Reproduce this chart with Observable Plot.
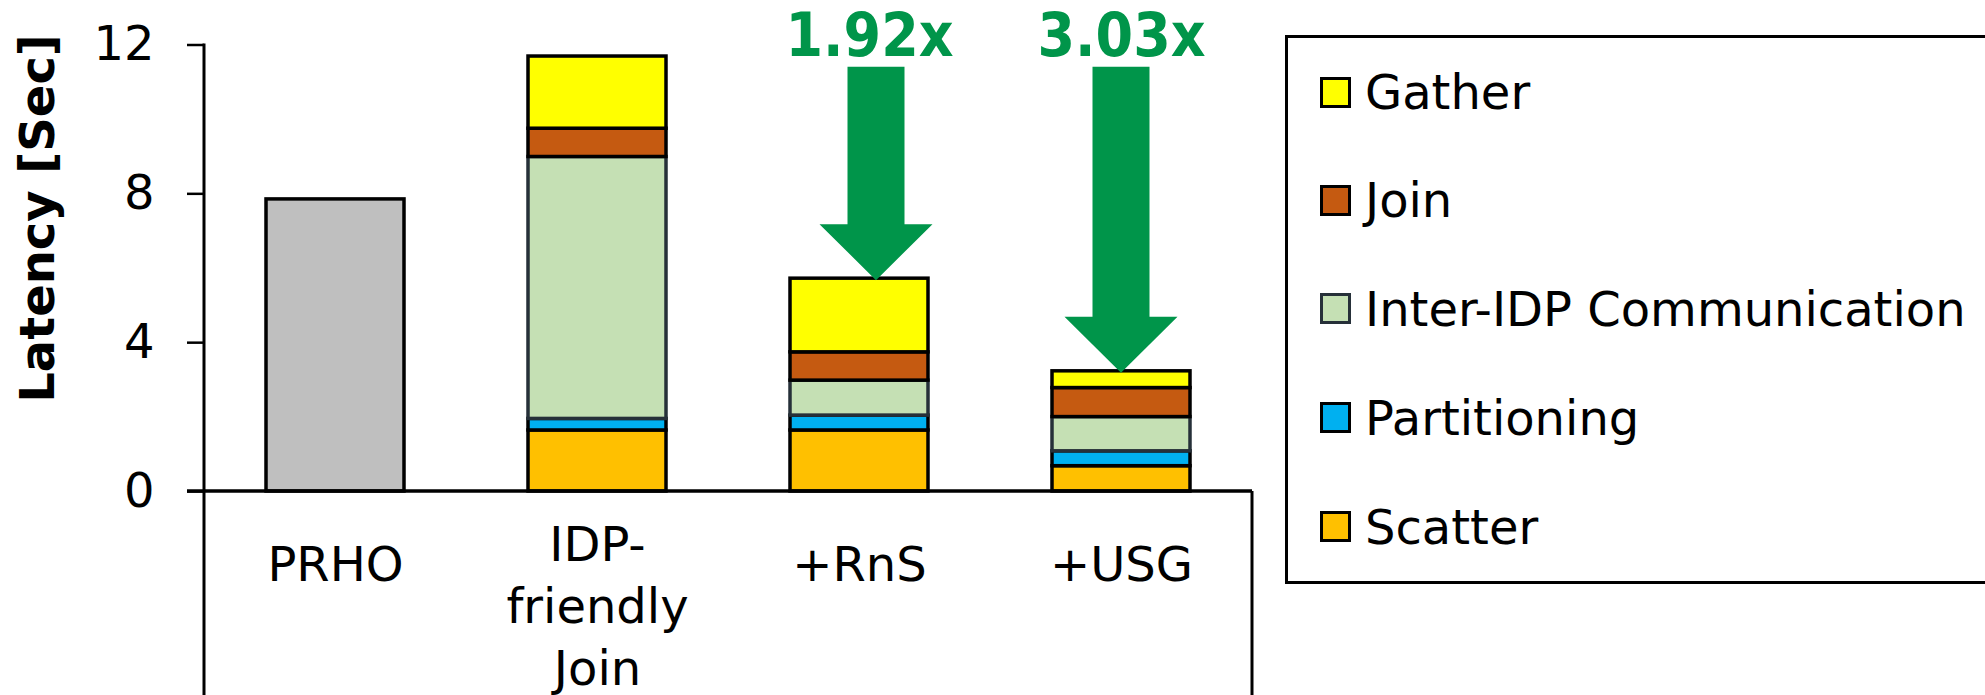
<!DOCTYPE html>
<html><head><meta charset="utf-8">
<script src="https://cdn.jsdelivr.net/npm/d3@7"></script>
<script src="https://cdn.jsdelivr.net/npm/@observablehq/plot@0.6"></script>
<style>
body{margin:0;background:#fff;}
#wrap{position:relative;width:1985px;height:695px;overflow:hidden;font-family:"DejaVu Sans",sans-serif;color:#000;}
#wrap svg{position:absolute;left:0;top:0;}
#legend{position:absolute;left:1285px;top:35px;width:760px;height:549px;border:3px solid #000;box-sizing:border-box;background:#fff;}
.item{position:absolute;left:32px;height:50px;display:flex;align-items:center;font-size:48px;white-space:nowrap;}
.sw{width:31px;height:31px;border:3px solid #000;box-sizing:border-box;margin-right:14px;flex:none;}
</style></head><body><div id="wrap"></div>
<script>
// ---- data ----
const categories = ["PRHO", "IDP-\nfriendly\nJoin", "+RnS", "+USG"];
const seriesNames = ["PRHO", "Scatter", "Partitioning", "Inter-IDP Communication", "Join", "Gather"];
const prhoTotal    = [7.85, 0, 0, 0];
const scatter      = [0, 1.64, 1.64, 0.68];
const partitioning = [0, 0.31, 0.40, 0.40];
const interIDP     = [0, 7.04, 0.94, 0.92];
const joinTime     = [0, 0.76, 0.76, 0.78];
const gather       = [0, 1.94, 1.98, 0.45];
const yTicks = [0, 4, 8, 12];
const speedupCats = ["+RnS", "+USG"];
const speedupLabels = ["1.92x", "3.03x"];
const arrowFrom = 11.4;
const legendOrder = ["Gather", "Join", "Inter-IDP Communication", "Partitioning", "Scatter"];

// ---- styles ----
const colors = {
  "PRHO": "#BFBFBF", "Scatter": "#FFC000", "Partitioning": "#00B0F0",
  "Inter-IDP Communication": "#C5E0B4", "Join": "#C55A11", "Gather": "#FFFF00"
};
const strokes = {"Inter-IDP Communication": "#263039"};
const green = "#00954A";
const arrowNudge = [17, 0];
const textNudge = [10, 0];

const valuesBySeries = [prhoTotal, scatter, partitioning, interIDP, joinTime, gather];
const table = [];
seriesNames.forEach((s, si) => {
  categories.forEach((c, ci) => {
    const v = valuesBySeries[si][ci];
    if (v > 0) table.push({cat: c, series: s, value: v});
  });
});
const totals = categories.map((c) => d3.sum(table.filter(d => d.cat === c), d => d.value));

const W = 1985, H = 695;
const frameDecor = (index, scales, values, dims) => {
  const g = d3.create("svg:g").attr("stroke", "#000").attr("fill", "none");
  const x0 = dims.marginLeft, x1 = dims.width - dims.marginRight;
  const y0 = scales.y(0);
  g.append("line").attr("x1", x0).attr("x2", x0).attr("y1", dims.marginTop - 1).attr("y2", dims.height + 5).attr("stroke-width", 3);
  g.append("line").attr("x1", x0 - 17).attr("x2", x1).attr("y1", y0).attr("y2", y0).attr("stroke-width", 3.5);
  g.append("line").attr("x1", x1).attr("x2", x1).attr("y1", y0).attr("y2", dims.height + 5).attr("stroke-width", 3);
  const sx = scales.x;
  const bw = typeof sx.bandwidth === "function" ? sx.bandwidth() : sx.bandwidth;
  speedupCats.forEach((c, i) => {
    const ci = categories.indexOf(c);
    const cx = sx(c) + bw / 2 + arrowNudge[i];
    const tip = scales.y(totals[ci]) + 2;
    const top = scales.y(arrowFrom);
    const headLen = 56, headW = 56.5, shaftW = 28.5;
    const pts = [
      [cx - shaftW, top], [cx + shaftW, top], [cx + shaftW, tip - headLen], [cx + headW, tip - headLen],
      [cx, tip], [cx - headW, tip - headLen], [cx - shaftW, tip - headLen]
    ];
    g.append("path").attr("d", "M" + pts.map(p => p.join(",")).join("L") + "Z")
      .attr("fill", green).attr("stroke", "none");
  });
  return g.node();
};

const chart = Plot.plot({
  width: W, height: H,
  marginLeft: 204, marginRight: W - 1252, marginTop: 44.5, marginBottom: H - 491,
  style: {fontFamily: "DejaVu Sans", fontSize: "48px", color: "#000", background: "transparent"},
  x: {domain: categories, paddingInner: 0.473, paddingOuter: 0.2365, axis: null},
  y: {domain: [0, 12]},
  color: {type: "identity"},
  marks: [
    Plot.barY(table, {
      x: "cat", y: "value", fill: d => colors[d.series],
      stroke: d => strokes[d.series] || "#000", strokeWidth: 3.5
    }),
    frameDecor,
    Plot.axisY({ticks: yTicks, tickSize: 17, tickPadding: 33, strokeWidth: 2.5, label: null, fontSize: 48}),
    Plot.text(["Latency [Sec]"], {
      frameAnchor: "top-left", dx: -166, dy: 173.5, rotate: -90,
      fontWeight: "bold", fontSize: 48, lineAnchor: "middle", textAnchor: "middle"
    }),
    Plot.text(categories.filter(c => !c.includes("\n")), {
      x: d => d, text: d => d, frameAnchor: "bottom", dy: 55, lineAnchor: "top", fontSize: 48
    }),
    Plot.text(categories.filter(c => c.includes("\n")), {
      x: d => d, text: d => d, frameAnchor: "bottom", dy: 26, lineAnchor: "top", fontSize: 48, lineHeight: 1.29
    }),
    ...speedupCats.map((c, i) => Plot.text([c], {
      x: d => d, text: () => speedupLabels[i], frameAnchor: "top", dy: -8, dx: textNudge[i],
      fill: green, fontWeight: "bold", fontSize: 60,
      fontFamily: "'DejaVu Sans Condensed', 'DejaVu Sans'", lineAnchor: "middle"
    }))
  ]
});

const wrap = document.getElementById("wrap");
wrap.appendChild(chart);

const legend = document.createElement("div");
legend.id = "legend";
const centers = [92.4, 200, 308.9, 417.8, 526.7];
legendOrder.forEach((s, i) => {
  const it = document.createElement("div");
  it.className = "item";
  it.style.top = (centers[i] - 25 - 38) + "px";
  const sw = document.createElement("div");
  sw.className = "sw";
  sw.style.background = colors[s];
  if (strokes[s]) sw.style.borderColor = strokes[s];
  const t = document.createElement("span");
  t.textContent = s;
  it.appendChild(sw); it.appendChild(t);
  legend.appendChild(it);
});
wrap.appendChild(legend);
</script>
</body></html>
